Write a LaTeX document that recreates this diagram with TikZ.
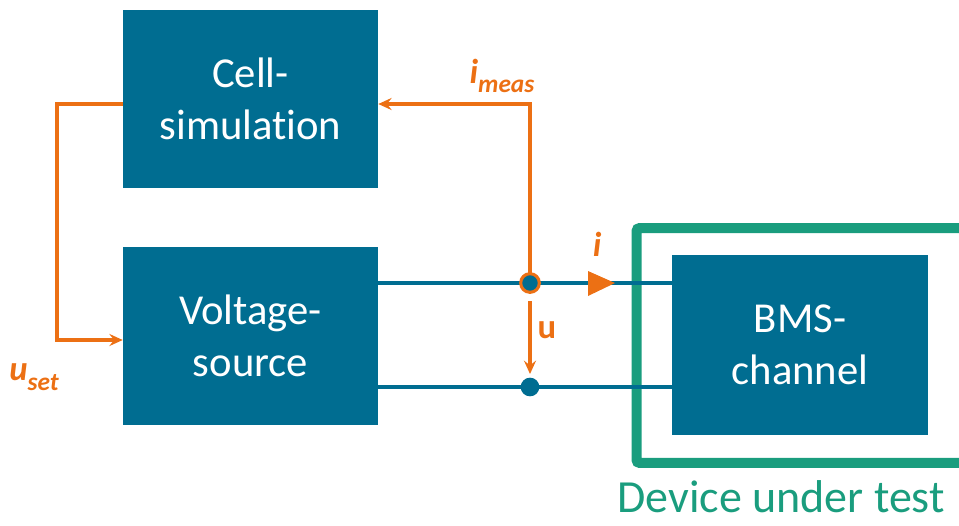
\documentclass[tikz,border=0pt]{standalone}
\usepackage{fontspec}
\setmainfont[Ligatures=NoCommon]{Carlito}
\usetikzlibrary{arrows.meta}
\definecolor{boxblue}{HTML}{006D91}
\definecolor{sigorange}{HTML}{EC7014}
\definecolor{dutgreen}{HTML}{1A9D7E}
\newcommand{\lblsub}[2]{#1\raisebox{-0.28em}{\fontsize{19}{19}\selectfont #2}}
\begin{document}
\begin{tikzpicture}[x=0.75pt,y=-0.75pt,
  blk/.style={fill=boxblue, text=white, align=center, inner sep=0pt,
    minimum width=191.25pt, minimum height=133.5pt,
    font=\fontsize{32}{39}\selectfont},
  wire/.style={draw=boxblue, line width=2.4pt},
  sig/.style={draw=sigorange, line width=2.3pt,
    -{Stealth[length=10pt,width=9pt,inset=3.5pt]}},
  lbl/.style={text=sigorange, font=\fontsize{26}{26}\selectfont\bfseries, inner sep=0pt}]
\useasboundingbox (0,0) rectangle (959,525);

% blocks
\node[blk] (cell) at (250.5,99) {Cell-\\simulation};
\node[blk] (vs) at (250.5,335.5) {Voltage-\\source};

% device under test frame and BMS channel
\node[draw=dutgreen, line width=7.5pt, rounded corners=2pt,
      minimum width=254pt, minimum height=176pt, inner sep=0pt] (dut) at (806,345.5) {};
\node[blk, minimum width=192pt, minimum height=135pt] (bms) at (800,345) {BMS-\\channel};
\node[text=dutgreen, font=\fontsize{34.5}{35}\selectfont, inner sep=0pt] (dutlbl) at (781,497) {Device under test};

% measurement points
\coordinate (m1) at (530,283);
\coordinate (m2) at (530,387);
\coordinate (tap) at (530,104);
\coordinate (ua) at (530,301);
\coordinate (ub) at (530,374);
\coordinate (setl1) at (57,104);
\coordinate (setl2) at (57,340);

% power wires
\draw[wire] (vs.east |- m1) -- (bms.west |- m1);
\draw[wire] (vs.east |- m2) -- (bms.west |- m2);

% current measurement fed back to the cell simulation
\draw[sig] (m1) -- (tap) -- (cell.east |- tap);
% set voltage from the cell simulation to the source
\draw[sig] (cell.west |- setl1) -- (setl1) -- (setl2) -- (vs.west |- setl2);
% measured voltage
\draw[sig] (ua) -- (ub);

% current direction marker
\fill[sigorange] (588,271) -- (615,283) -- (588,296) -- cycle;

% junction dots
\filldraw[fill=boxblue, draw=sigorange, line width=2.3pt] (m1) circle (7pt);
\fill[boxblue] (m2) circle (7pt);

% labels
\node[lbl] (limeas) at (502,76) {\itshape\lblsub{i}{meas}};
\node[lbl] (luset) at (34,377) {\itshape\lblsub{u}{set}};
\node[lbl] (lu) at (547,330) {u};
\node[lbl] (li) at (597,244) {\itshape i};
\end{tikzpicture}
\end{document}
